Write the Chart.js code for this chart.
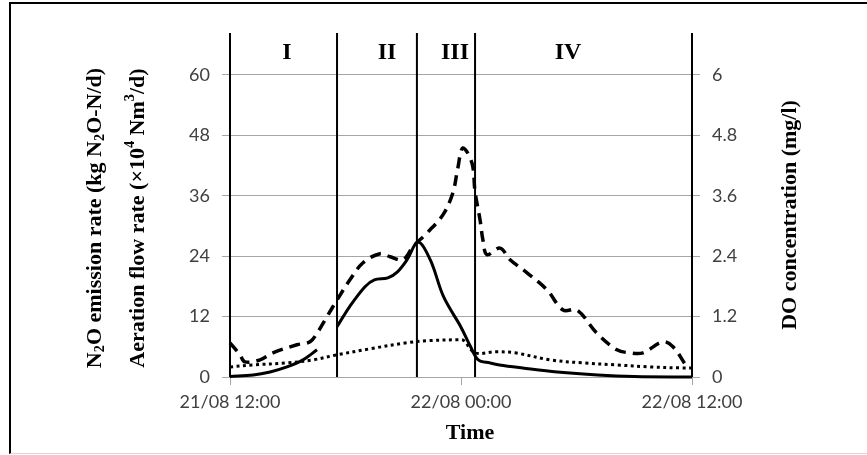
<!doctype html>
<html lang="en">
<head>
<meta charset="utf-8">
<title>N2O emission, aeration and DO</title>
<script src="https://cdn.jsdelivr.net/npm/chart.js@4.4.0/dist/chart.umd.min.js"></script>
<style>
  html, body { margin: 0; padding: 0; background: #fff; overflow: hidden; }
  .frame { position: absolute; left: 9px; top: 2px; width: 900px; height: 449px;
           border-left: 2px solid #000; border-top: 2px solid #000; border-bottom: 1px solid #d8d8d8; }
  .wrap { position: absolute; left: 0; top: 0; width: 867px; height: 455px; }
</style>
</head>
<body>
<div class="frame"></div>
<div class="wrap"><canvas id="c"></canvas></div>
<script>
// x values are hours after 21/08 12:00
const n2oHours = [0, 1.2, 2.08, 2.96, 3.79, 4.52, 5.0, 5.56, 6.2, 7.0, 7.5, 8.2, 8.7, 9.2, 9.77, 10.4, 11.1, 12.0, 12.5, 12.9, 13.5, 14.0, 15.2, 17.0, 19.1, 21.0, 24];
const n2oRate  = [0.1, 0.4, 1.0, 2.0, 3.4, 5.4, null, 10, 13.9, 17.9, 19.3, 19.7, 20.9, 23.3, 26.8, 23.3, 15.9, 9.9, 6.0, 3.4, 2.8, 2.4, 1.8, 1.0, 0.4, 0.1, 0.0];

const airHours = [0, 0.52, 0.78, 1.56, 2.23, 3.48, 4.16, 4.57, 5.04, 5.56, 6.23, 6.91, 7.79, 8.31, 8.99, 9.51, 10.23, 11.06, 11.58, 11.82, 12.1, 12.57, 12.73, 12.99, 13.14, 13.35, 14.03, 14.55, 15.43, 16.47, 17.30, 18.03, 19.06, 20.10, 20.78, 21.45, 22.49, 23.01, 23.74];
const airFlow  = [6.8, 4.4, 3.0, 3.4, 4.8, 6.4, 7.0, 9.0, 12, 15.3, 19.3, 22.7, 24.5, 23.9, 23.3, 25.9, 28.6, 32.2, 36.6, 41.2, 45.5, 42.5, 36.8, 31.2, 27.2, 24.3, 25.6, 23.3, 20.7, 17.3, 13.3, 13.3, 8.7, 5.4, 4.8, 4.8, 7.0, 6.0, 2.0];

const doHours = [0, 1.2, 2.95, 4.31, 5.56, 7.27, 9.19, 10.23, 12.0, 12.16, 12.73, 13.77, 14.81, 16.62, 18.34, 20.1, 21.8, 23.5, 24];
const doConc  = [0.20, 0.24, 0.28, 0.34, 0.44, 0.56, 0.68, 0.72, 0.74, 0.72, 0.48, 0.50, 0.48, 0.34, 0.28, 0.24, 0.20, 0.18, 0.18];

const phaseBounds = [0, 5.56, 9.71, 12.73, 24];
const phaseNames = ['I', 'II', 'III', 'IV'];
const phaseLabelHours = [2.96, 8.16, 11.69, 17.56];
const phaseLabelY = 64.4;

const xTickHours = [0, 12, 24];
const xTickLabels = ['21/08 12:00', '22/08 00:00', '22/08 12:00'];
const leftTicks = [0, 12, 24, 36, 48, 60];
const rightTicks = [0, 1.2, 2.4, 3.6, 4.8, 6];
const leftMax = 68.34;
const rightMax = 6.834;

function pts(xs, ys) { return xs.map((x, i) => ({x: x, y: ys[i]})); }

const grid = '#a6a6a6';
const tickFont = {family: 'Lato', size: 18};

let dsets = [
  {data: pts(n2oHours, n2oRate), yAxisID: 'y', borderColor: '#000', borderWidth: 3, pointRadius: 0, tension: 0.35, spanGaps: false, clip: false},
  {data: pts(airHours, airFlow), yAxisID: 'y', borderColor: '#000', borderWidth: 3.5, borderDash: [11, 7], pointRadius: 0, tension: 0.35, clip: false},
  {data: pts(doHours, doConc), yAxisID: 'y2', borderColor: '#000', borderWidth: 3, borderDash: [3, 3.5], pointRadius: 0, tension: 0.35, clip: false}
];
phaseBounds.forEach(function (h) {
  dsets.push({data: [{x: h, y: 0}, {x: h, y: leftMax}], yAxisID: 'y', borderColor: '#000', borderWidth: 2, pointRadius: 0, clip: false});
});

// rich text: parts are [text, 'sub'|'sup'|undefined]
function drawRich(ctx, parts, cx, cy, size) {
  let w = 0;
  parts.forEach(function (p) {
    ctx.font = 'bold ' + (p[1] ? size * 0.65 : size) + 'px "Liberation Serif"';
    w += ctx.measureText(p[0]).width;
  });
  let x = cx - w / 2;
  parts.forEach(function (p) {
    let s = p[1] ? size * 0.65 : size;
    ctx.font = 'bold ' + s + 'px "Liberation Serif"';
    let dy = p[1] === 'sub' ? size * 0.25 : (p[1] === 'sup' ? -size * 0.35 : 0);
    ctx.fillText(p[0], x, cy + dy);
    x += ctx.measureText(p[0]).width;
  });
}

const textPlugin = {
  id: 'texts',
  afterDraw(chart) {
    const ctx = chart.ctx;
    const xs = chart.scales.x, ys = chart.scales.y;
    ctx.save();
    ctx.fillStyle = '#000';
    ctx.textBaseline = 'middle';
    ctx.textAlign = 'left';
    // phase names
    phaseNames.forEach(function (n, i) {
      ctx.font = 'bold 24px "Liberation Serif"';
      let w = ctx.measureText(n).width;
      ctx.fillText(n, xs.getPixelForValue(phaseLabelHours[i]) - w / 2, ys.getPixelForValue(phaseLabelY));
    });
    // left titles
    ctx.save();
    ctx.translate(95, 218);
    ctx.rotate(-Math.PI / 2);
    drawRich(ctx, [['N'], ['2', 'sub'], ['O emission rate (kg N'], ['2', 'sub'], ['O-N/d)']], 0, 0, 22);
    ctx.restore();
    ctx.save();
    ctx.translate(138, 218);
    ctx.rotate(-Math.PI / 2);
    drawRich(ctx, [['Aeration flow rate (\u00d710'], ['4', 'sup'], [' Nm'], ['3', 'sup'], ['/d)']], 0, 0, 22);
    ctx.restore();
    // right title
    ctx.save();
    ctx.translate(790, 215);
    ctx.rotate(-Math.PI / 2);
    drawRich(ctx, [['DO concentration (mg/l)']], 0, 0, 22);
    ctx.restore();
    // x title
    drawRich(ctx, [['Time']], 470, 433, 22);
    ctx.restore();
  }
};

new Chart('c', {
  type: 'line',
  data: {datasets: dsets},
  plugins: [textPlugin],
  options: {
    responsive: true,
    maintainAspectRatio: false,
    animation: false,
    layout: {padding: {top: 33, left: 0, right: 0, bottom: 0}},
    plugins: {legend: {display: false}, tooltip: {enabled: false}},
    scales: {
      x: {
        type: 'linear', min: 0, max: 24,
        afterBuildTicks: function (s) { s.ticks = xTickHours.map(v => ({value: v})); },
        afterFit: function (s) { s.height = 78; },
        ticks: {font: tickFont, color: '#404040', maxRotation: 0, autoSkip: false, padding: 6,
                callback: function (v) { return xTickLabels[xTickHours.indexOf(v)]; }},
        grid: {drawOnChartArea: false, tickLength: 8, color: grid},
        border: {color: grid}
      },
      y: {
        position: 'left', min: 0, max: leftMax,
        afterBuildTicks: function (s) { s.ticks = leftTicks.map(v => ({value: v})); },
        afterFit: function (s) { s.width = 230; },
        ticks: {font: tickFont, color: '#404040', padding: 12},
        grid: {color: grid, tickLength: 8},
        border: {display: false}
      },
      y2: {
        position: 'right', min: 0, max: rightMax,
        afterBuildTicks: function (s) { s.ticks = rightTicks.map(v => ({value: v})); },
        afterFit: function (s) { s.width = 175; },
        ticks: {font: tickFont, color: '#404040', padding: 12},
        grid: {drawOnChartArea: false, color: grid, tickLength: 8},
        border: {display: false}
      }
    }
  }
});
</script>
</body>
</html>
